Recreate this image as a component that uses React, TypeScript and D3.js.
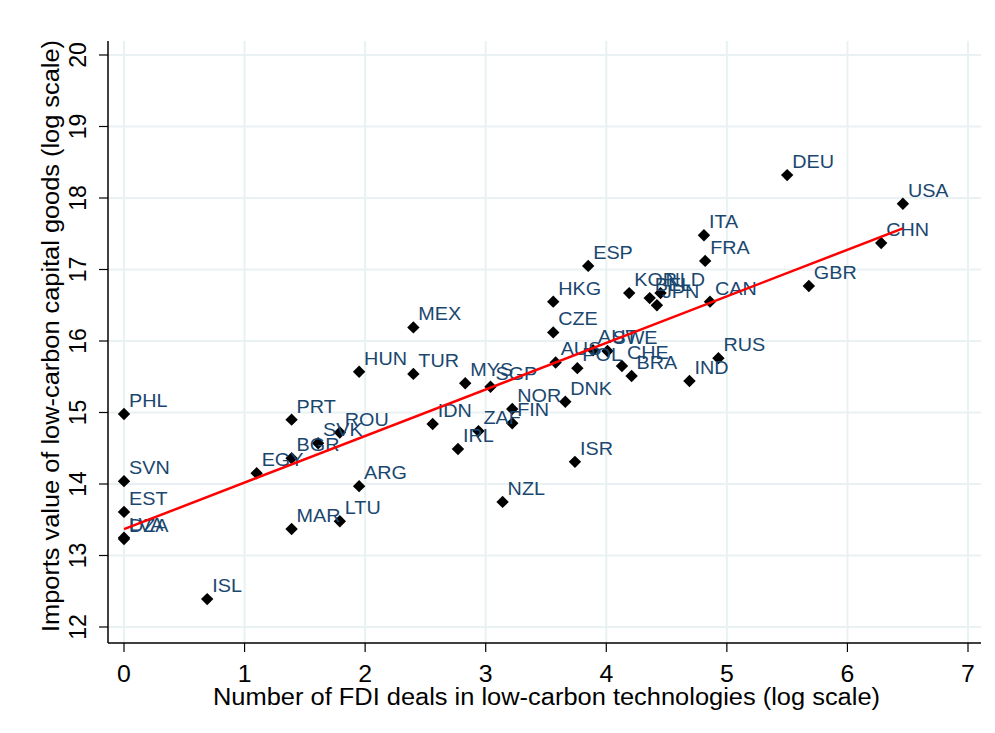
import React from "react";
import * as d3 from "d3";

const countries = ["PHL","SVN","EST","LVA","DZA","ISL","EGY","PRT","BGR","MAR","SVK","ROU","LTU","HUN","ARG","MEX","TUR","IDN","IRL","MYS","ZAF","SGP","NZL","NOR","FIN","HKG","CZE","AUS","DNK","ISR","POL","ESP","AUT","SWE","CHE","KOR","BRA","BEL","JPN","NLD","IND","ITA","FRA","CAN","RUS","DEU","GBR","CHN","USA"];
const fdiDeals = [0,0,0,0,0,0.69,1.10,1.39,1.39,1.39,1.61,1.79,1.79,1.95,1.95,2.40,2.40,2.56,2.77,2.83,2.94,3.04,3.14,3.22,3.22,3.56,3.56,3.58,3.66,3.74,3.76,3.85,3.89,4.01,4.13,4.19,4.21,4.36,4.42,4.45,4.69,4.81,4.82,4.86,4.93,5.50,5.68,6.28,6.46];
const imports = [14.98,14.04,13.61,13.25,13.23,12.39,14.15,14.90,14.36,13.37,14.57,14.72,13.48,15.57,13.97,16.19,15.54,14.84,14.49,15.41,14.74,15.36,13.75,15.05,14.85,16.55,16.12,15.70,15.15,14.31,15.62,17.05,15.87,15.86,15.65,16.67,15.51,16.60,16.50,16.67,15.44,17.48,17.12,16.55,15.76,18.32,16.77,17.37,17.92];
const xTicks = [0,1,2,3,4,5,6,7];
const yTicks = [12,13,14,15,16,17,18,19,20];
const xTitle = "Number of FDI deals in low-carbon technologies (log scale)";
const yTitle = "Imports value of low-carbon capital goods (log scale)";

export default function App() {
  const W = 995, H = 733;
  const left = 108, right = 981, top = 41, bottom = 643;
  const x = d3.scaleLinear().domain([0, 7]).range([124, 968]);
  const y = d3.scaleLinear().domain([12, 20]).range([627, 55]);
  const font = "'Liberation Sans', Arial, Helvetica, sans-serif";
  const grid = "#e9f1f2";
  const labelColor = "#1a476f";

  // OLS fit
  const mx = d3.mean(fdiDeals)!;
  const my = d3.mean(imports)!;
  let sxy = 0, sxx = 0;
  fdiDeals.forEach((v, i) => { sxy += (v - mx) * (imports[i] - my); sxx += (v - mx) * (v - mx); });
  const slope = sxy / sxx;
  const intercept = my - slope * mx;
  const [xmin, xmax] = d3.extent(fdiDeals) as [number, number];
  const line = d3.line<number>().x(d => x(d)).y(d => y(intercept + slope * d));

  const diamond = d3.symbol().type(d3.symbolDiamond2).size(98)();

  return (
    <svg width={W} height={H} style={{ position: "absolute", left: 0, top: 0, background: "#fff" }} fontFamily={font}>
      <rect x={0} y={0} width={W} height={H} fill="#fff" />
      {yTicks.map(t => (
        <line key={"gy" + t} x1={left} x2={right} y1={y(t)} y2={y(t)} stroke={grid} strokeWidth={2} />
      ))}
      {xTicks.map(t => (
        <line key={"gx" + t} x1={x(t)} x2={x(t)} y1={top} y2={bottom} stroke={grid} strokeWidth={2} />
      ))}
      {/* axes */}
      <line x1={left} x2={left} y1={top} y2={bottom} stroke="#000" strokeWidth={1.5} />
      <line x1={left} x2={right} y1={bottom} y2={bottom} stroke="#000" strokeWidth={1.5} />
      {yTicks.map(t => (
        <g key={"ty" + t}>
          <line x1={left - 9} x2={left} y1={y(t)} y2={y(t)} stroke="#000" strokeWidth={1.2} />
          <text transform={`translate(${left - 22},${y(t)}) rotate(-90)`} textAnchor="middle" fontSize={23} fill="#000">{t}</text>
        </g>
      ))}
      {xTicks.map(t => (
        <g key={"tx" + t}>
          <line x1={x(t)} x2={x(t)} y1={bottom} y2={bottom + 9} stroke="#000" strokeWidth={1.2} />
          <text transform={`translate(${x(t)},682) scale(1.08,1)`} textAnchor="middle" fontSize={23} fill="#000">{t}</text>
        </g>
      ))}
      <text x={546.5} y={705} textAnchor="middle" fontSize={23} fill="#000" textLength={667} lengthAdjust="spacingAndGlyphs">{xTitle}</text>
      <text transform={`translate(59,336) rotate(-90)`} textAnchor="middle" fontSize={23} fill="#000" textLength={592} lengthAdjust="spacingAndGlyphs">{yTitle}</text>
      {/* points */}
      {countries.map((c, i) => (
        <path key={"p" + c} d={diamond} transform={`translate(${x(fdiDeals[i])},${y(imports[i])})`} fill="#000" />
      ))}
      {countries.map((c, i) => (
        <text key={"l" + c} transform={`translate(${x(fdiDeals[i]) + 5},${y(imports[i]) - 7}) scale(1.1,1)`} fontSize={18} fill={labelColor}>{c}</text>
      ))}
      <path d={line([xmin, xmax]) || ""} stroke="#ff0000" strokeWidth={2.5} fill="none" />
    </svg>
  );
}
